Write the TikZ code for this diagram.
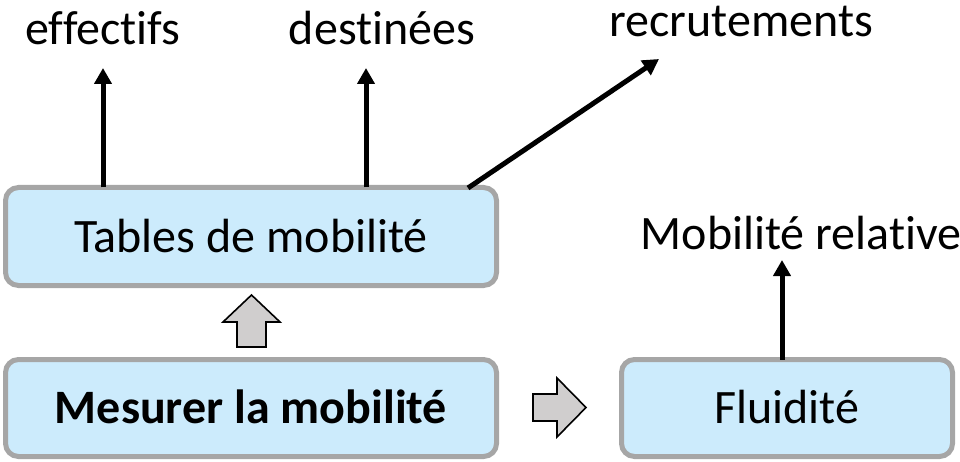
\documentclass[tikz,border=0pt]{standalone}
\usepackage{fontspec}
\setmainfont{Carlito}[Ligatures={NoCommon,NoRare,NoDiscretionary}]
\usetikzlibrary{arrows.meta,calc}
\definecolor{boxfill}{HTML}{CCEBFC}
\definecolor{boxline}{HTML}{A6A6A6}
\definecolor{blockfill}{HTML}{D0CECE}
\tikzset{
  boxnode/.style={draw=boxline, line width=5pt, fill=boxfill, rounded corners=13pt,
    inner sep=0pt, outer sep=0pt, font=\fontsize{48}{52}\selectfont},
  lbl/.style={anchor=base, inner sep=0pt, font=\fontsize{48}{52}\selectfont},
  conn/.style={line width=5pt, -{Triangle[length=16pt,width=17pt]}},
  blockarrow/.style={draw=black, line width=1.6pt, fill=blockfill, line join=miter}
}
\begin{document}
\begin{tikzpicture}[x=1pt,y=-1pt]
\useasboundingbox (0,0) rectangle (960,462);
% boxes
\node[boxnode, minimum width=491pt, minimum height=98pt] (tables) at (251,236.5) {};
\node[lbl] (tablestxt) at (251,252) {Tables de mobilité};
\node[boxnode, minimum width=491pt, minimum height=97pt] (mesurer) at (251,408) {};
\node[lbl] (mesurertxt) at (251,423) {\bfseries Mesurer la mobilité};
\node[boxnode, minimum width=331pt, minimum height=97pt] (fluid) at (787,408) {};
\node[lbl] (fluidtxt) at (787,423) {Fluidité};
% labels
\node[lbl] (eff) at (103,45) {effectifs};
\node[lbl] (dest) at (382,45) {destinées};
\node[lbl] (recr) at (741,37) {recrutements};
\node[lbl] (mobrel) at (801,250) {Mobilité relative};
% connector ends
\coordinate (s1) at (103,187.5);
\coordinate (t1) at (103,68);
\coordinate (s2) at (366,187.5);
\coordinate (t2) at (366,68);
\coordinate (s3) at (468,188);
\coordinate (t3) at (659,59);
\coordinate (s4) at (782,359.5);
\coordinate (t4) at (782,260);
\draw[conn] (s1) -- (t1);
\draw[conn] (s2) -- (t2);
\draw[conn] (s3) -- (t3);
\draw[conn] (s4) -- (t4);
% block arrows
\draw[blockarrow] (237,347) -- (266,347) -- (266,322) -- (280,322) -- (251.5,295) -- (223,322) -- (237,322) -- cycle;
\draw[blockarrow] (533,394) -- (557,394) -- (557,378) -- (586,407.5) -- (557,437) -- (557,421) -- (533,421) -- cycle;
\end{tikzpicture}
\end{document}
